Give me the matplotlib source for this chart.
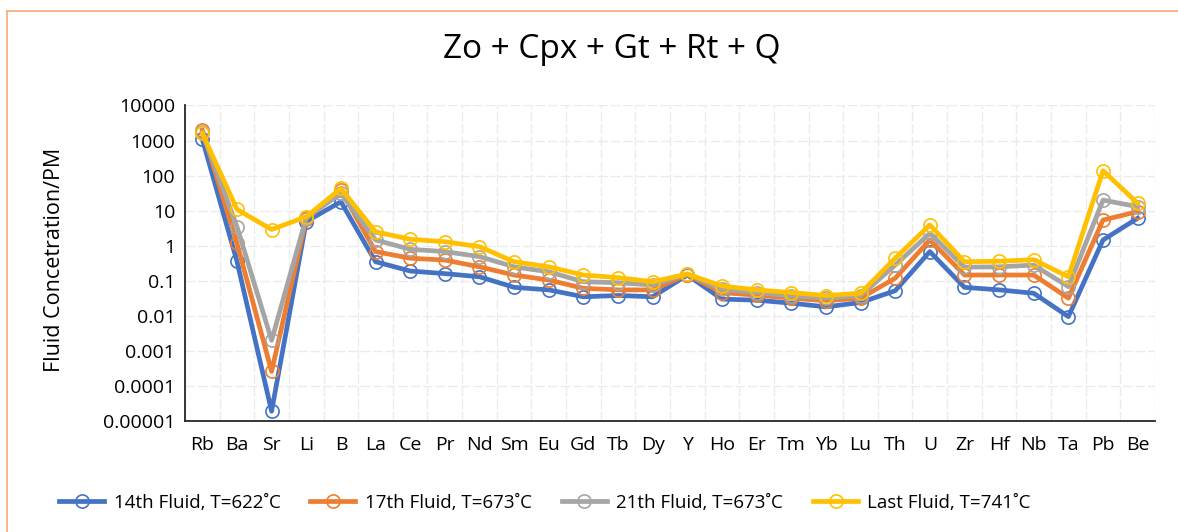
import matplotlib
matplotlib.use("Agg")
import matplotlib.pyplot as plt
from matplotlib.lines import Line2D
from matplotlib.ticker import FixedLocator, FixedFormatter, NullFormatter

plt.rcParams['font.family'] = ['Open Sans', 'DejaVu Sans']

elements = ["Rb", "Ba", "Sr", "Li", "B", "La", "Ce", "Pr", "Nd", "Sm", "Eu", "Gd", "Tb", "Dy",
            "Y", "Ho", "Er", "Tm", "Yb", "Lu", "Th", "U", "Zr", "Hf", "Nb", "Ta", "Pb", "Be"]

fluid_14 = [1100, 0.36, 1.9e-5, 4.9, 18, 0.35, 0.19, 0.16, 0.13, 0.065, 0.055, 0.035, 0.038, 0.035,
            0.146, 0.030, 0.028, 0.023, 0.018, 0.024, 0.052, 0.68, 0.065, 0.055, 0.044, 0.0095, 1.46, 6.1]
fluid_17 = [2000, 1.17, 0.00026, 5.8, 39, 0.68, 0.44, 0.39, 0.25, 0.146, 0.105, 0.061, 0.055, 0.055,
            0.150, 0.046, 0.039, 0.032, 0.027, 0.032, 0.118, 1.46, 0.146, 0.146, 0.146, 0.032, 5.4, 9.4]
fluid_21 = [1700, 3.5, 0.002, 6.3, 31, 1.46, 0.79, 0.68, 0.49, 0.25, 0.18, 0.094, 0.088, 0.076,
            0.156, 0.057, 0.046, 0.037, 0.032, 0.038, 0.28, 2.26, 0.245, 0.25, 0.28, 0.068, 20, 13]
fluid_last = [1600, 10.9, 2.9, 6.7, 43, 2.5, 1.53, 1.3, 0.94, 0.35, 0.25, 0.146, 0.123, 0.094,
              0.156, 0.071, 0.055, 0.046, 0.038, 0.044, 0.44, 3.9, 0.35, 0.36, 0.40, 0.13, 138, 16.3]

series_labels = ["14th Fluid, T=622˚C", "17th Fluid, T=673˚C",
                 "21th Fluid, T=673˚C", "Last Fluid, T=741˚C"]
series_colors = ["#4472C4", "#ED7D31", "#A5A5A5", "#FFC000"]

ytick_values = [1e-5, 1e-4, 1e-3, 1e-2, 1e-1, 1, 10, 100, 1000, 10000]
ytick_labels = ["0.00001", "0.0001", "0.001", "0.01", "0.1", "1", "10", "100", "1000", "10000"]

W, H = 1178, 532
fig = plt.figure(figsize=(W / 100, H / 100), dpi=100)
ax = fig.add_axes([185 / W, 1 - 421 / H, (1155 - 185) / W, (421 - 105.5) / H])

x = list(range(len(elements)))
for vals, lab, col in zip([fluid_14, fluid_17, fluid_21, fluid_last], series_labels, series_colors):
    ax.plot(x, vals, color=col, lw=3.4, marker='o', markersize=9.5,
            markerfacecolor='none', markeredgecolor=col, markeredgewidth=1.2,
            label=lab, solid_joinstyle='round')

ax.set_yscale('log')
ax.set_ylim(1e-5, 1e4)
ax.set_xlim(-0.5, len(elements) - 0.5)

ax.yaxis.set_major_locator(FixedLocator(ytick_values))
ax.yaxis.set_major_formatter(FixedFormatter(ytick_labels))
ax.yaxis.set_minor_locator(FixedLocator([]))
ax.yaxis.set_minor_formatter(NullFormatter())
ax.set_xticks(x)
ax.set_xticklabels(elements)
ax.set_xticks([i - 0.5 for i in range(len(elements) + 1)], minor=True)

ax.tick_params(axis='both', which='both', length=0, colors='#000000')
ax.tick_params(axis='x', labelsize=14, pad=11)
ax.tick_params(axis='y', labelsize=14, pad=7)

ax.grid(True, axis='y', which='major', color='#EBEBEB', lw=1.0, ls=(0, (7, 2)))
ax.grid(True, axis='x', which='minor', color='#EBEBEB', lw=1.0, ls=(0, (7, 2)))
ax.grid(False, axis='x', which='major')
ax.set_axisbelow(True)

for side in ['top', 'right']:
    ax.spines[side].set_visible(False)
for side in ['left', 'bottom']:
    ax.spines[side].set_color('#262626')
    ax.spines[side].set_linewidth(1.3)

fig.text(55 / W, 1 - 260 / H, "Fluid Concetration/PM", fontsize=15.5, rotation=90,
         ha='center', va='center')

fig.text(612 / W, 1 - 58 / H, "Zo + Cpx + Gt + Rt + Q", fontsize=24, ha='center', va='baseline')

leg = fig.legend(loc='center', bbox_to_anchor=(545 / W, 1 - 503 / H), ncol=4, frameon=False,
                 fontsize=13.5, handlelength=2.4, columnspacing=1.6, handletextpad=0.5,
                 numpoints=1)

# chart frame
frame_col = '#F4B183'
fig.add_artist(Line2D([6.5 / W, 6.5 / W], [0, 1 - 11 / H], transform=fig.transFigure,
                      color=frame_col, lw=1.3))
fig.add_artist(Line2D([6.5 / W, 1], [1 - 11 / H, 1 - 11 / H], transform=fig.transFigure,
                      color=frame_col, lw=1.3))

fig.savefig("out.png", dpi=100, facecolor='white')
